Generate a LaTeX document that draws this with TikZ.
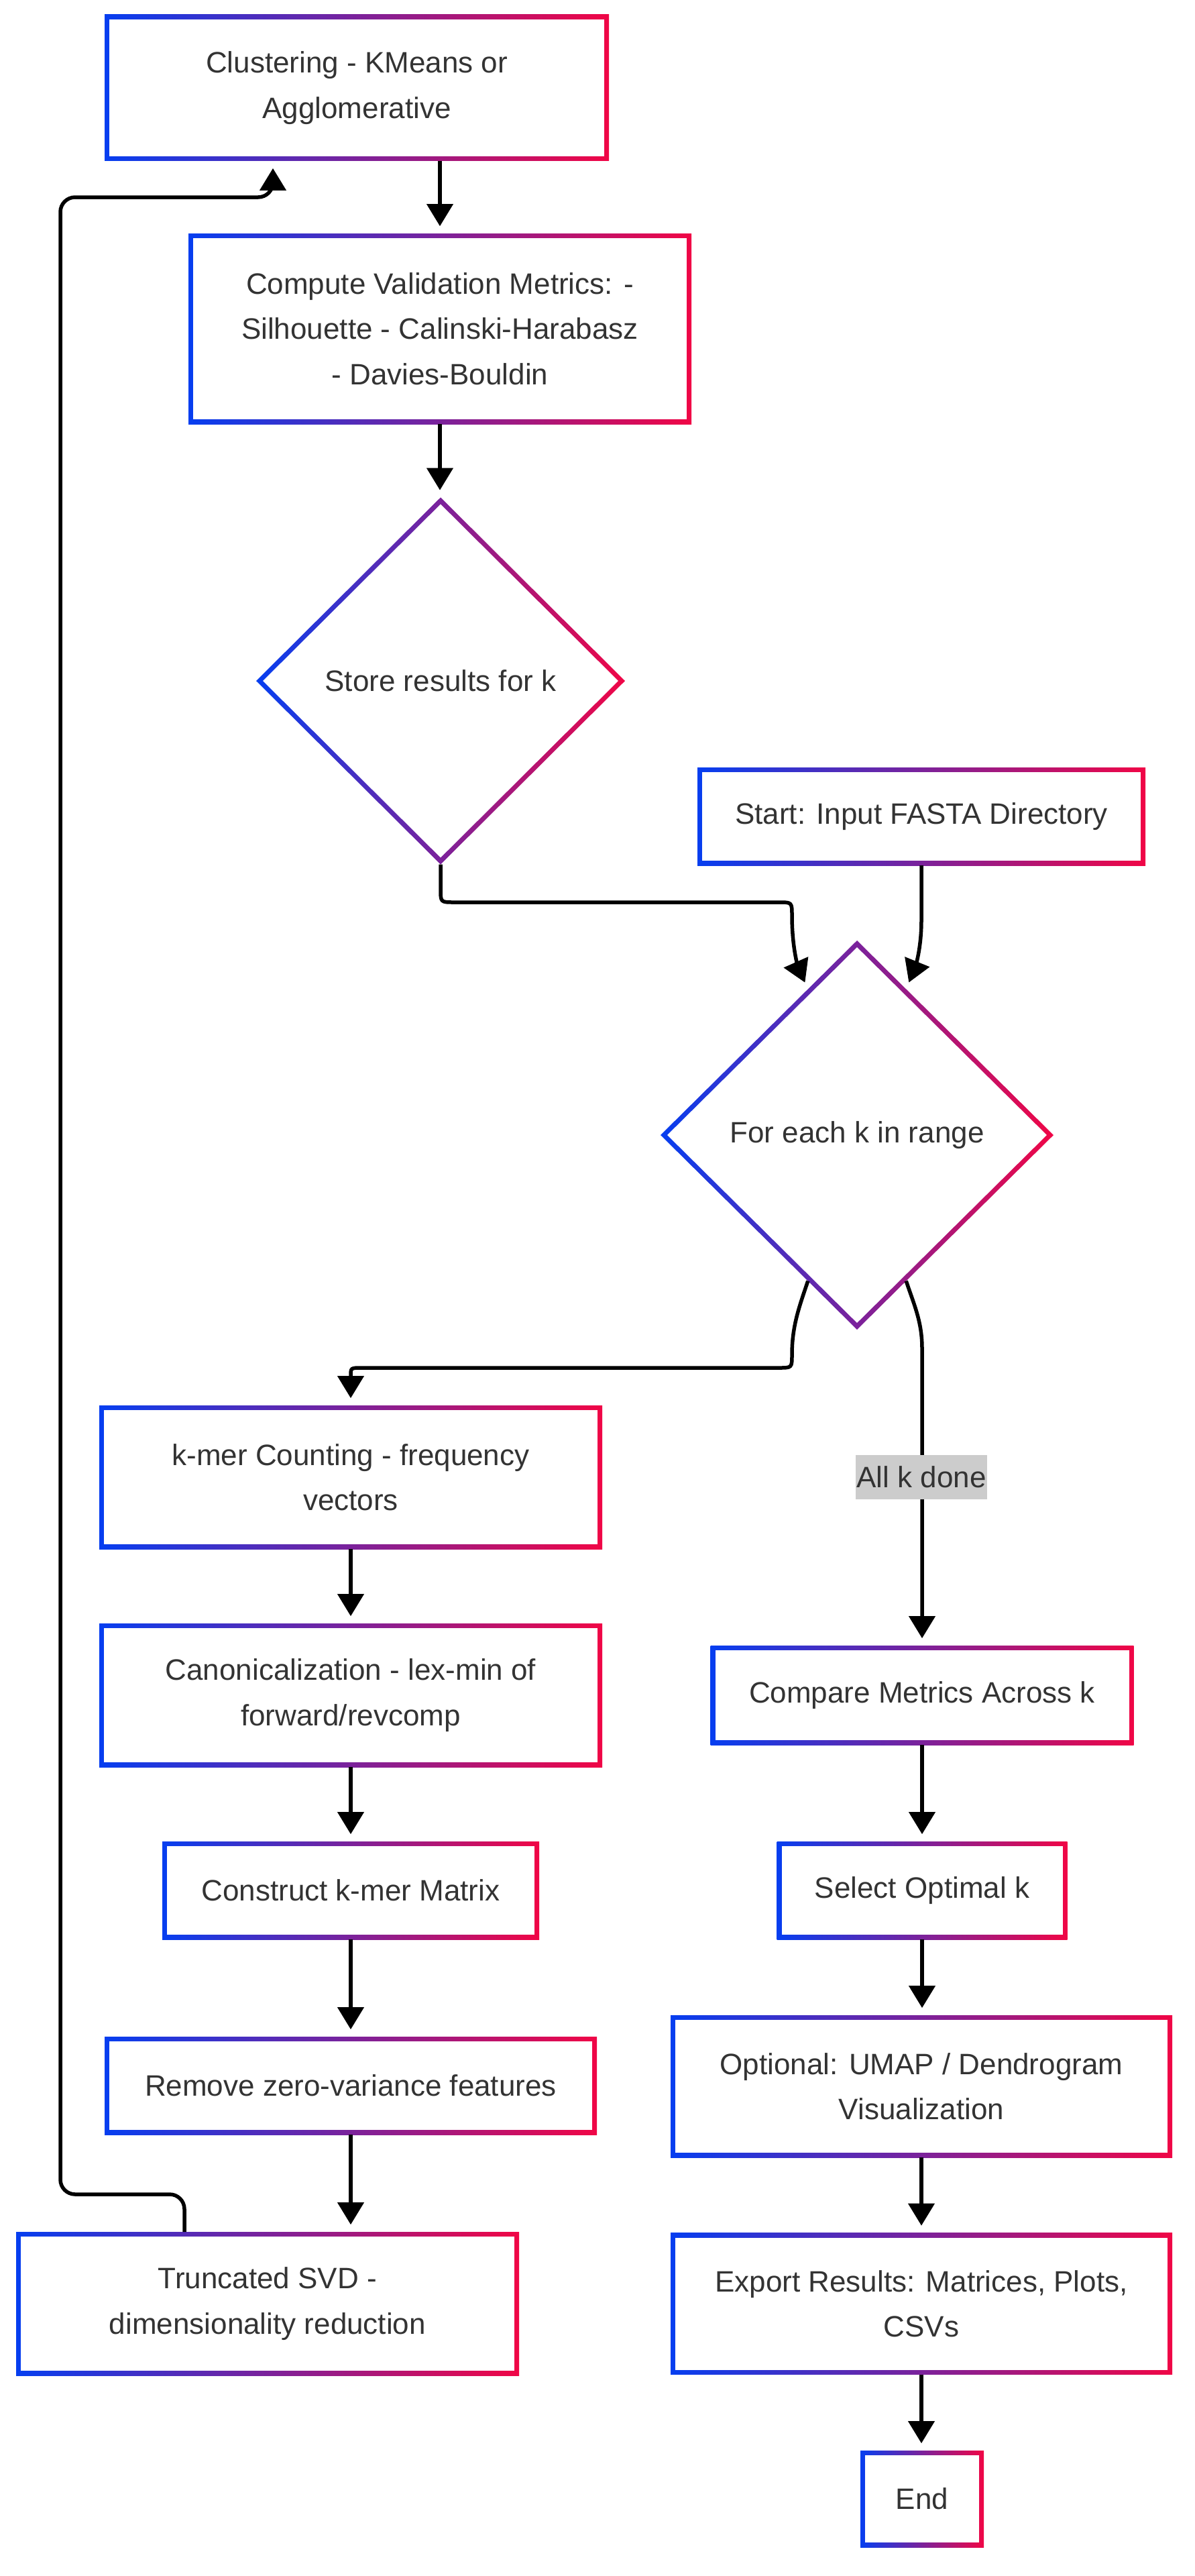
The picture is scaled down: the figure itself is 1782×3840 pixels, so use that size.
\documentclass[tikz,border=0pt]{standalone}
\usepackage{fontspec}
\setmainfont{Liberation Sans}
\usetikzlibrary{shapes.geometric,arrows.meta,calc}
\definecolor{gblue}{RGB}{6,62,240}
\definecolor{gred}{RGB}{240,6,70}
\definecolor{txt}{RGB}{51,51,51}
\definecolor{lblbg}{RGB}{204,204,204}
\newcommand\fsz{\fontsize{44pt}{67.5pt}\selectfont}
\tikzset{
 gout/.style={rectangle, inner sep=0pt, outer sep=0pt, left color=gblue, right color=gred},
 gin/.style={rectangle, inner sep=0pt, fill=white, align=center, text=txt, font=\fsz},
 gdout/.style={diamond, aspect=1, inner sep=0pt, outer sep=0pt, left color=gblue, right color=gred},
 gdin/.style={diamond, aspect=1, inner sep=0pt, fill=white, align=center, text=txt, font=\fsz},
 conn/.style={draw=black, line width=5.5pt, -{Triangle[width=40pt,length=33pt,line width=1pt]}, shorten >=11pt, rounded corners=22pt},
 sconn/.style={conn, sharp corners},
 lbl/.style={fill=lblbg, text=txt, font=\fsz, inner xsep=1pt, inner ysep=0pt, minimum height=66pt}
}
\newcommand\gbox[5]{%
 \node[gout, minimum width=#3, minimum height=#4] (#1) at #2 {};
 \node[gin, minimum width=#3-14pt, minimum height=#4-14pt] at (#1) {#5};}
\newcommand\gdia[5]{%
 \node[gdout, minimum width=#3, minimum height=#4] (#1) at #2 {};
 \node[gdin, minimum width=#3-20pt, minimum height=#4-20pt] at (#1) {#5};}
\begin{document}
\begin{tikzpicture}[x=1pt,y=-1pt]
\useasboundingbox (0,0) rectangle (1782,3840);
\fill[white] (0,0) rectangle (1782,3840);

\gbox{clus}{(532,131)}{752pt}{218pt}{Clustering - KMeans or\\Agglomerative}
\gbox{comp}{(656,490)}{750pt}{284pt}{Compute Validation Metrics: -\\Silhouette - Calinski-Harabasz\\- Davies-Bouldin}
\gdia{store}{(657,1015)}{550pt}{547pt}{Store results for k}
\gbox{start}{(1374,1217)}{668pt}{146pt}{Start: Input FASTA Directory}
\gdia{fork}{(1278,1692)}{586pt}{580pt}{For each k in range}
\gbox{kmer}{(523,2202)}{750pt}{214pt}{k-mer Counting - frequency\\vectors}
\gbox{canon}{(523,2527)}{750pt}{214pt}{Canonicalization - lex-min of\\forward/revcomp}
\gbox{constr}{(523,2818)}{562pt}{146pt}{Construct k-mer Matrix}
\gbox{remove}{(523,3109)}{734pt}{146pt}{Remove zero-variance features}
\gbox{trunc}{(399,3434)}{750pt}{214pt}{Truncated SVD -\\dimensionality reduction}
\gbox{compare}{(1375,2527)}{631pt}{148pt}{Compare Metrics Across k}
\gbox{select}{(1375,2818)}{433pt}{146pt}{Select Optimal k}
\gbox{optional}{(1374,3110)}{748pt}{212pt}{Optional: UMAP / Dendrogram\\Visualization}
\gbox{export}{(1374,3434)}{748pt}{211pt}{Export Results: Matrices, Plots,\\CSVs}
\gbox{endn}{(1375,3725)}{184pt}{144pt}{End}

% connectors
\draw[conn] (comp.north |- clus.south) -- (comp.north);
\draw[conn] (comp.south) -- (comp.south |- store.north);
\draw[sconn] (store.south) -- (657,1325) .. controls (657,1345) .. (677,1345) -- (1161,1345) .. controls (1181,1345) .. (1181,1365) .. controls (1181,1420) and (1193,1448) .. ($(fork.north)!0.25!(fork.west)$);
\draw[sconn] (start.south) -- (1374,1372) .. controls (1374,1420) and (1362,1448) .. ($(fork.north)!0.25!(fork.east)$);
\draw[sconn] ($(fork.south)!0.25!(fork.west)$) .. controls (1193,1945) and (1181,1975) .. (1181,2019) .. controls (1181,2039) .. (1161,2039) -- (540,2039) .. controls (523,2039) .. (523,2051) -- (kmer.north);
\draw[sconn] ($(fork.south)!0.25!(fork.east)$) .. controls (1363,1945) and (1375,1970) .. (1375,2010) -- (compare.north);
\node[lbl] (lab) at (1374,2202) {All k done};
\draw[conn] (kmer.south) -- (canon.north);
\draw[conn] (canon.south) -- (constr.north);
\draw[conn] (constr.south) -- (remove.north);
\draw[conn] (remove.south) -- (remove.south |- trunc.north);
\draw[conn] ([xshift=251pt]trunc.north west) -- (275,3271) -- (90,3271) -- (90,294) -- (407,294) -- ([xshift=251pt]clus.south west);
\draw[conn] (compare.south) -- (compare.south |- select.north);
\draw[conn] (select.south) -- (select.south |- optional.north);
\draw[conn] (optional.south) -- (optional.south |- export.north);
\draw[conn] (export.south) -- (export.south |- endn.north);
\end{tikzpicture}
\end{document}
